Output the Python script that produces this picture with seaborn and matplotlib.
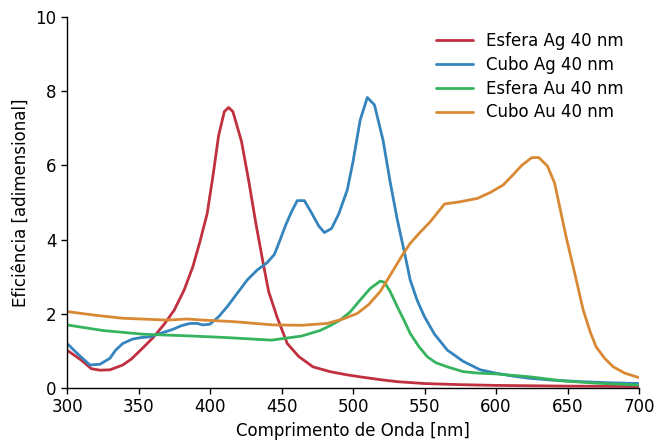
import numpy as np
import pandas as pd
import matplotlib
matplotlib.use("Agg")
import matplotlib.pyplot as plt
import seaborn as sns

# Esfera Ag 40 nm
x_esf_ag = [300, 310, 317, 323, 330, 339, 345, 353, 360, 368, 375, 382, 388, 393, 398, 402, 406, 410, 413, 416, 419, 422, 427, 432, 437, 441, 447, 454, 462, 472, 484, 495, 505, 520, 531, 550, 575, 600, 650, 700]
y_esf_ag = [1.02, 0.75, 0.52, 0.48, 0.49, 0.62, 0.78, 1.08, 1.35, 1.72, 2.10, 2.65, 3.27, 3.95, 4.70, 5.70, 6.80, 7.45, 7.56, 7.45, 7.05, 6.65, 5.60, 4.45, 3.40, 2.60, 1.90, 1.20, 0.85, 0.57, 0.44, 0.36, 0.30, 0.22, 0.17, 0.12, 0.09, 0.07, 0.05, 0.04]

# Cubo Ag 40 nm
x_cubo_ag = [300, 308, 316, 323, 330, 334, 339, 346, 352, 358, 366, 374, 380, 386, 391, 395, 400, 406, 412, 419, 426, 433, 440, 445, 449, 453, 457, 461, 466, 471, 476, 480, 485, 490, 496, 500, 505, 510, 515, 521, 526, 531, 536, 540, 545, 550, 557, 566, 577, 589, 600, 612, 624, 640, 660, 680, 700]
y_cubo_ag = [1.20, 0.90, 0.62, 0.64, 0.80, 1.02, 1.20, 1.32, 1.36, 1.38, 1.48, 1.58, 1.68, 1.74, 1.74, 1.70, 1.72, 1.92, 2.19, 2.55, 2.91, 3.18, 3.38, 3.60, 3.99, 4.40, 4.75, 5.05, 5.05, 4.72, 4.37, 4.19, 4.30, 4.69, 5.34, 6.10, 7.22, 7.83, 7.63, 6.68, 5.55, 4.53, 3.65, 2.91, 2.35, 1.92, 1.45, 1.02, 0.72, 0.49, 0.40, 0.32, 0.26, 0.21, 0.17, 0.14, 0.12]

# Esfera Au 40 nm
x_esf_au = [300, 325, 353, 388, 411, 443, 464, 477, 484, 491, 498, 505, 512, 519, 522, 526, 531, 536, 540, 546, 552, 558, 566, 577, 588, 600, 624, 647, 670, 700]
y_esf_au = [1.70, 1.55, 1.45, 1.40, 1.36, 1.29, 1.40, 1.55, 1.68, 1.83, 2.05, 2.37, 2.68, 2.88, 2.85, 2.60, 2.19, 1.80, 1.47, 1.12, 0.84, 0.68, 0.57, 0.44, 0.40, 0.38, 0.30, 0.19, 0.13, 0.08]

# Cubo Au 40 nm
x_cubo_au = [300, 320, 339, 370, 384, 395, 416, 444, 464, 482, 493, 503, 511, 519, 527, 534, 540, 547, 554, 559, 564, 575, 587, 596, 605, 612, 618, 625, 630, 636, 641, 645, 649, 655, 661, 666, 670, 676, 682, 690, 700]
y_cubo_au = [2.06, 1.96, 1.88, 1.83, 1.86, 1.83, 1.79, 1.70, 1.69, 1.74, 1.86, 2.01, 2.25, 2.60, 3.10, 3.55, 3.90, 4.20, 4.48, 4.72, 4.96, 5.02, 5.11, 5.27, 5.47, 5.75, 6.00, 6.21, 6.21, 5.98, 5.52, 4.80, 4.08, 3.10, 2.10, 1.50, 1.11, 0.80, 0.57, 0.40, 0.28]

labels = ["Esfera Ag 40 nm", "Cubo Ag 40 nm", "Esfera Au 40 nm", "Cubo Au 40 nm"]
colors = ["#c0303f", "#3484bd", "#35b35e", "#d98934"]

frames = []
for lab, xs, ys in zip(labels, [x_esf_ag, x_cubo_ag, x_esf_au, x_cubo_au],
                       [y_esf_ag, y_cubo_ag, y_esf_au, y_cubo_au]):
    frames.append(pd.DataFrame({"wl": xs, "eff": ys, "serie": lab}))
df = pd.concat(frames, ignore_index=True)

sns.set_style("ticks")
plt.rcParams["font.family"] = ["DejaVu Sans"]
plt.rcParams["text.color"] = "black"
plt.rcParams["axes.labelcolor"] = "black"

fig = plt.figure(figsize=(6.57, 4.41), dpi=100)
ax = fig.add_axes([0.102, 0.1202, 0.8706, 0.8413])
sns.lineplot(data=df, x="wl", y="eff", hue="serie", hue_order=labels,
             palette=dict(zip(labels, colors)), linewidth=2, ax=ax,
             sort=False, estimator=None)

ax.set_xlim(300, 700)
ax.set_ylim(0, 10)
ax.set_xticks([300, 350, 400, 450, 500, 550, 600, 650, 700])
ax.set_yticks([0, 2, 4, 6, 8, 10])
ax.tick_params(labelsize=12, length=4, width=1, colors="black")
ax.set_xlabel("Comprimento de Onda [nm]", fontsize=12, color="black")
ax.set_ylabel("Eficiência [adimensional]", fontsize=12, color="black")
for s in ["top", "right"]:
    ax.spines[s].set_visible(False)
for s in ["left", "bottom"]:
    ax.spines[s].set_color("black")
    ax.spines[s].set_linewidth(1)

leg = ax.legend(title=None, frameon=False, fontsize=12, loc="upper right",
                bbox_to_anchor=(1.0, 1.0), handlelength=2.2,
                labelspacing=0.35)
for t in leg.get_texts():
    t.set_color("black")

fig.savefig("out.png", dpi=100)
